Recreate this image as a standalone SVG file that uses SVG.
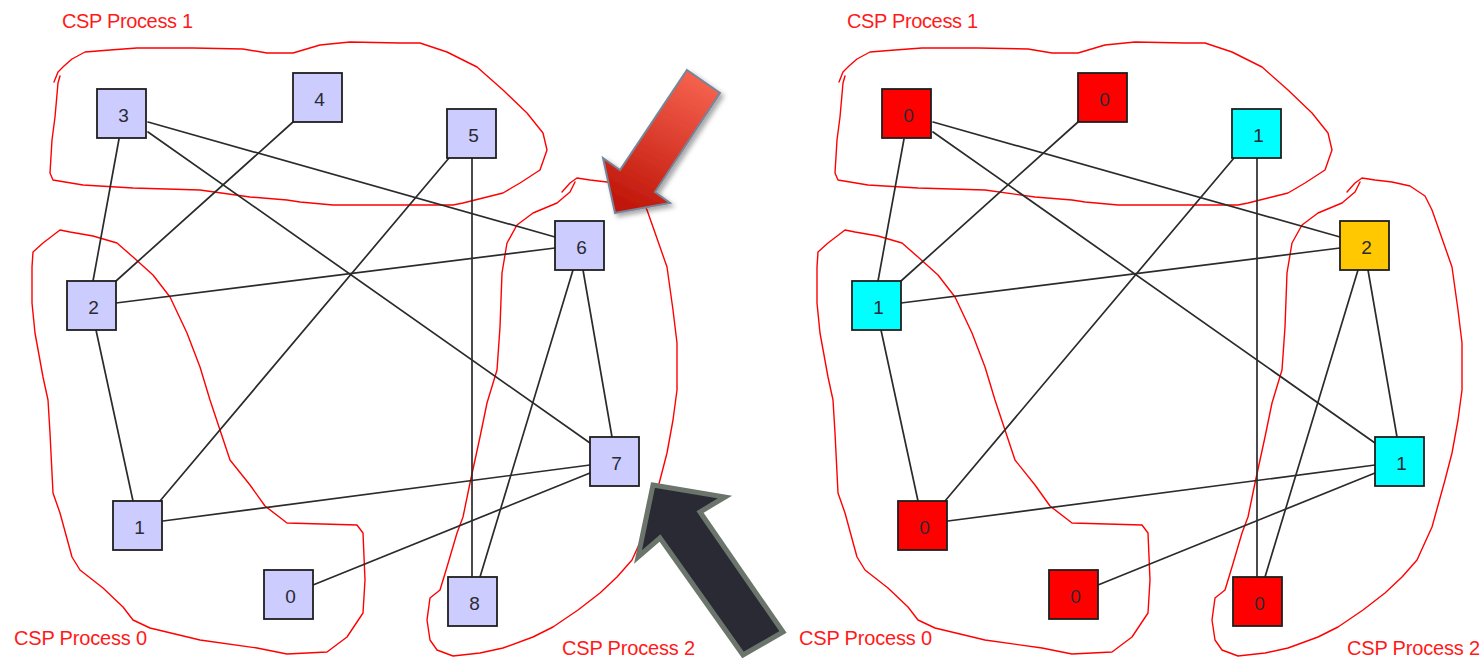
<svg xmlns="http://www.w3.org/2000/svg" xmlns:xlink="http://www.w3.org/1999/xlink" width="1482" height="658" viewBox="0 0 1482 658">
  <style>
    .bg { fill: #ffffff; }
    .hull { fill: none; stroke: #ff0000; stroke-width: 1.4; stroke-linejoin: round; stroke-linecap: round; }
    .cap { font-family: "Liberation Sans", Arial, sans-serif; font-size: 20px; fill: #ff1a1a; }
    .edge { stroke: #2b2b2b; stroke-width: 1.7; fill: none; stroke-linecap: round; }
    .box { stroke: #1e1e1e; stroke-width: 1.8; }
    .lav { fill: #ccccff; }
    .red { fill: #ff0000; }
    .cyan { fill: #00ffff; }
    .gold { fill: #ffc800; }
    .num { font-family: "Liberation Sans", Arial, sans-serif; font-size: 19px; fill: #2a2a33; text-anchor: middle; }
  </style>
  <defs>
    <!-- process partitions, shared by both panels -->
    <g id="hulls">
      <path class="hull" d="M54,82 L58,72 L64,66 L72,59 L85,52 L110,50 L137,48 L193,48 L243,49 L267,53 L293,53 L320,45 L350,42 L400,43 L420,43 L447,52 L477,67 L503,90 L527,113 L543,133 L547,150 L540,170 L520,183 L503,193 L487,197 L463,203 L453,205 L383,205 L333,205 L300,202 L287,200 L250,197 L200,190 L133,188 L83,185 L53,180 L50,173 L52,140 L55,117 L58,83 L60,76"/>
      <path class="hull" d="M60,230 L70,232 L93,236 L117,243 L133,257 L153,275 L170,297 L187,333 L200,367 L210,400 L230,460 L250,485 L265,506 L287,523 L357,525 L363,533 L365,580 L363,613 L347,637 L327,652 L287,654 L257,648 L200,640 L150,628 L133,620 L123,607 L103,588 L80,570 L72,557 L60,513 L53,493 L50,433 L48,400 L43,377 L35,333 L32,303 L32,267 L33,252 L43,243 Z"/>
      <path class="hull" d="M562,192 L570,183 L577,178 L590,180 L607,182 L625,186 L640,196 L647,210 L653,227 L667,267 L673,310 L677,343 L677,390 L673,420 L667,453 L660,480 L647,527 L632,560 L617,577 L600,593 L578,610 L553,627 L533,637 L503,648 L480,653 L453,656 L437,650 L430,640 L427,620 L430,598 L440,590 L447,567 L457,533 L463,517 L470,483 L480,437 L487,403 L497,370 L500,327 L502,273 L507,243 L517,225 L533,213 L557,203 L570,192 L575,182"/>
    </g>
    <linearGradient id="redFill" x1="0.7" y1="0" x2="0.3" y2="1">
      <stop offset="0" stop-color="#f5624e"/>
      <stop offset="1" stop-color="#c0160a"/>
    </linearGradient>
    <filter id="softShadow" x="-20%" y="-20%" width="150%" height="150%">
      <feDropShadow dx="3" dy="3" stdDeviation="2.5" flood-color="#000" flood-opacity="0.35"/>
    </filter>
  </defs>

  <rect class="bg" x="0" y="0" width="1482" height="658"/>

  <!-- partition outlines -->
  <g id="partitions">
    <use xlink:href="#hulls"/>
    <use xlink:href="#hulls" transform="translate(785,0)"/>
  </g>

  <!-- partition captions -->
  <g id="captions">
    <text class="cap" x="62" y="28" textLength="131">CSP Process 1</text>
    <text class="cap" x="14" y="645" textLength="133">CSP Process 0</text>
    <text class="cap" x="562" y="655" textLength="133">CSP Process 2</text>
    <text class="cap" x="847" y="28" textLength="131">CSP Process 1</text>
    <text class="cap" x="799" y="645" textLength="133">CSP Process 0</text>
    <text class="cap" x="1347" y="655" textLength="133">CSP Process 2</text>
  </g>

  <!-- graph edges -->
  <g id="connectors">
    <g id="edges-left">
      <line class="edge" x1="119" y1="139" x2="93" y2="281"/>
      <line class="edge" x1="148" y1="122" x2="555" y2="237"/>
      <line class="edge" x1="148" y1="132" x2="590" y2="443"/>
      <line class="edge" x1="293" y1="122" x2="116" y2="281"/>
      <line class="edge" x1="449" y1="158" x2="160" y2="501"/>
      <line class="edge" x1="472" y1="158" x2="472" y2="577"/>
      <line class="edge" x1="555" y1="248" x2="116" y2="303"/>
      <line class="edge" x1="583" y1="270" x2="612" y2="437"/>
      <line class="edge" x1="573" y1="270" x2="480" y2="577"/>
      <line class="edge" x1="96" y1="330" x2="133" y2="501"/>
      <line class="edge" x1="590" y1="465" x2="163" y2="521"/>
      <line class="edge" x1="590" y1="473" x2="313" y2="585"/>
    </g>
    <g id="edges-right" transform="translate(785,0)">
      <line class="edge" x1="119" y1="139" x2="93" y2="281"/>
      <line class="edge" x1="148" y1="122" x2="555" y2="237"/>
      <line class="edge" x1="148" y1="132" x2="590" y2="443"/>
      <line class="edge" x1="293" y1="122" x2="116" y2="281"/>
      <line class="edge" x1="449" y1="158" x2="160" y2="501"/>
      <line class="edge" x1="472" y1="158" x2="472" y2="577"/>
      <line class="edge" x1="555" y1="248" x2="116" y2="303"/>
      <line class="edge" x1="583" y1="270" x2="612" y2="437"/>
      <line class="edge" x1="573" y1="270" x2="480" y2="577"/>
      <line class="edge" x1="96" y1="330" x2="133" y2="501"/>
      <line class="edge" x1="590" y1="465" x2="163" y2="521"/>
      <line class="edge" x1="590" y1="473" x2="313" y2="585"/>
    </g>
  </g>

  <!-- vertices, left panel: vertex ids -->
  <g id="v3"><rect class="box lav" x="97" y="89" width="49" height="49"/><text class="num" x="123.5" y="121.5">3</text></g>
  <g id="v4"><rect class="box lav" x="293" y="73" width="49" height="49"/><text class="num" x="319.5" y="105.5">4</text></g>
  <g id="v5"><rect class="box lav" x="447" y="109" width="49" height="49"/><text class="num" x="473.5" y="141.5">5</text></g>
  <g id="v6"><rect class="box lav" x="555" y="221" width="49" height="49"/><text class="num" x="581.5" y="253.5">6</text></g>
  <g id="v2"><rect class="box lav" x="67" y="281" width="49" height="49"/><text class="num" x="93.5" y="313.5">2</text></g>
  <g id="v7"><rect class="box lav" x="590" y="437" width="49" height="49"/><text class="num" x="616.5" y="469.5">7</text></g>
  <g id="v1"><rect class="box lav" x="113" y="501" width="49" height="49"/><text class="num" x="139.5" y="533.5">1</text></g>
  <g id="v0"><rect class="box lav" x="264" y="570" width="49" height="49"/><text class="num" x="290.5" y="602.5">0</text></g>
  <g id="v8"><rect class="box lav" x="448" y="577" width="49" height="49"/><text class="num" x="474.5" y="609.5">8</text></g>

  <!-- vertices, right panel: colour assignments -->
  <g id="c3"><rect class="box red" x="882" y="89" width="49" height="49"/><text class="num" x="908.5" y="121.5">0</text></g>
  <g id="c4"><rect class="box red" x="1078" y="73" width="49" height="49"/><text class="num" x="1104.5" y="105.5">0</text></g>
  <g id="c5"><rect class="box cyan" x="1232" y="109" width="49" height="49"/><text class="num" x="1258.5" y="141.5">1</text></g>
  <g id="c6"><rect class="box gold" x="1340" y="221" width="49" height="49"/><text class="num" x="1366.5" y="253.5">2</text></g>
  <g id="c2"><rect class="box cyan" x="852" y="281" width="49" height="49"/><text class="num" x="878.5" y="313.5">1</text></g>
  <g id="c7"><rect class="box cyan" x="1375" y="437" width="49" height="49"/><text class="num" x="1401.5" y="469.5">1</text></g>
  <g id="c1"><rect class="box red" x="898" y="501" width="49" height="49"/><text class="num" x="924.5" y="533.5">0</text></g>
  <g id="c0"><rect class="box red" x="1049" y="570" width="49" height="49"/><text class="num" x="1075.5" y="602.5">0</text></g>
  <g id="c8"><rect class="box red" x="1233" y="577" width="49" height="49"/><text class="num" x="1259.5" y="609.5">0</text></g>

  <!-- pointer arrows -->
  <g id="arrow-red">
    <polygon points="687,70 720,93 655,192 670,203 615,213 603,158 620,170" fill="url(#redFill)" stroke="#76869a" stroke-width="2" stroke-linejoin="miter" filter="url(#softShadow)"/>
  </g>
  <g id="arrow-dark">
    <polygon points="653,485 725,497 700,512 783,632 743,655 660,538 638,557" fill="#2a2a35" stroke="#6b756c" stroke-width="5" stroke-linejoin="miter"/>
  </g>
</svg>
